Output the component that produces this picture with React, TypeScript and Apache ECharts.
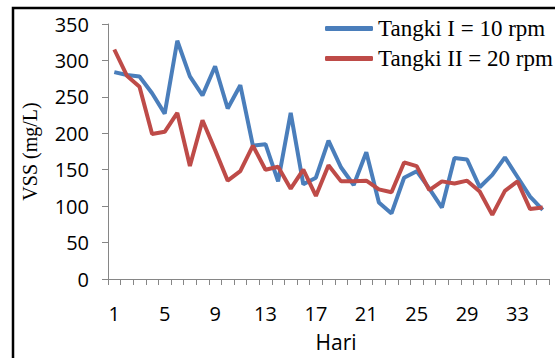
import React, { useEffect, useRef } from "react";
import * as echarts from "echarts";

const days: string[] = Array.from({ length: 35 }, (_, i) => String(i + 1));
const tangkiI: number[] = [284, 280, 278, 255, 227, 327, 278, 252, 292, 234, 266, 183, 185, 134, 228, 130, 139, 190, 153, 129, 174, 105, 90, 139, 148, 124, 98, 166, 164, 126, 143, 167, 140, 113, 95];
const tangkiII: number[] = [315, 279, 264, 199, 202, 228, 155, 218, 177, 135, 148, 183, 150, 154, 124, 150, 114, 156, 134, 134, 135, 123, 119, 160, 155, 122, 134, 131, 135, 120, 88, 121, 134, 96, 98];
const seriesNames: string[] = ["Tangki I = 10 rpm", "Tangki II = 20 rpm"];
const yTicks = { min: 0, max: 350, interval: 50 };

export default function App() {
  const ref = useRef<HTMLDivElement>(null);
  useEffect(() => {
    if (!ref.current) return;
    const chart = echarts.init(ref.current, null, { renderer: "svg" });
    const axisColor = "#868686";
    chart.setOption({
      animation: false,
      backgroundColor: "#ffffff",
      grid: { left: 108, right: 6, top: 24, bottom: 79, containLabel: false },
      legend: {
        orient: "vertical",
        left: 320,
        top: 12,
        itemWidth: 48,
        itemHeight: 5,
        itemGap: 7,
        icon: "roundRect",
        textStyle: { fontFamily: "Liberation Serif", fontSize: 23, color: "#000" },
        data: seriesNames,
      },
      xAxis: {
        type: "category",
        data: days,
        boundaryGap: true,
        axisLine: { lineStyle: { color: axisColor, width: 1 } },
        axisTick: { show: true, interval: 0, length: 6, lineStyle: { color: axisColor } },
        axisLabel: { interval: 3, margin: 24, fontFamily: "Open Sans", fontSize: 20, color: "#000" },
        splitLine: { show: false },
      },
      yAxis: {
        type: "value",
        min: yTicks.min,
        max: yTicks.max,
        interval: yTicks.interval,
        name: "VSS (mg/L)",
        nameLocation: "middle",
        nameGap: 68,
        nameTextStyle: { fontFamily: "Liberation Serif", fontSize: 20, color: "#000" },
        axisLine: { show: true, lineStyle: { color: axisColor, width: 1 } },
        axisTick: { show: true, length: 6, lineStyle: { color: axisColor } },
        axisLabel: { margin: 19, fontFamily: "Open Sans", fontSize: 20, color: "#000" },
        splitLine: { show: false },
      },
      graphic: [
        {
          type: "text",
          x: 336,
          y: 342,
          style: {
            text: "Hari",
            fontFamily: "Open Sans",
            fontSize: 21,
            fill: "#000",
            textAlign: "center",
            textVerticalAlign: "middle",
          },
        },
        {
          type: "rect",
          shape: { x: 13, y: 8, width: 700, height: 500 },
          style: { fill: "none", stroke: "#000", lineWidth: 2.5 },
        },
      ],
      series: [
        {
          name: seriesNames[0],
          type: "line",
          data: tangkiI,
          symbol: "none",
          lineStyle: { color: "#4A7EBB", width: 4 },
          itemStyle: { color: "#4A7EBB" },
        },
        {
          name: seriesNames[1],
          type: "line",
          data: tangkiII,
          symbol: "none",
          lineStyle: { color: "#BE4B48", width: 4 },
          itemStyle: { color: "#BE4B48" },
        },
      ],
    });
    return () => chart.dispose();
  }, []);
  return (
    <div
      ref={ref}
      style={{ position: "absolute", left: 0, top: 0, width: 555, height: 358 }}
    />
  );
}
